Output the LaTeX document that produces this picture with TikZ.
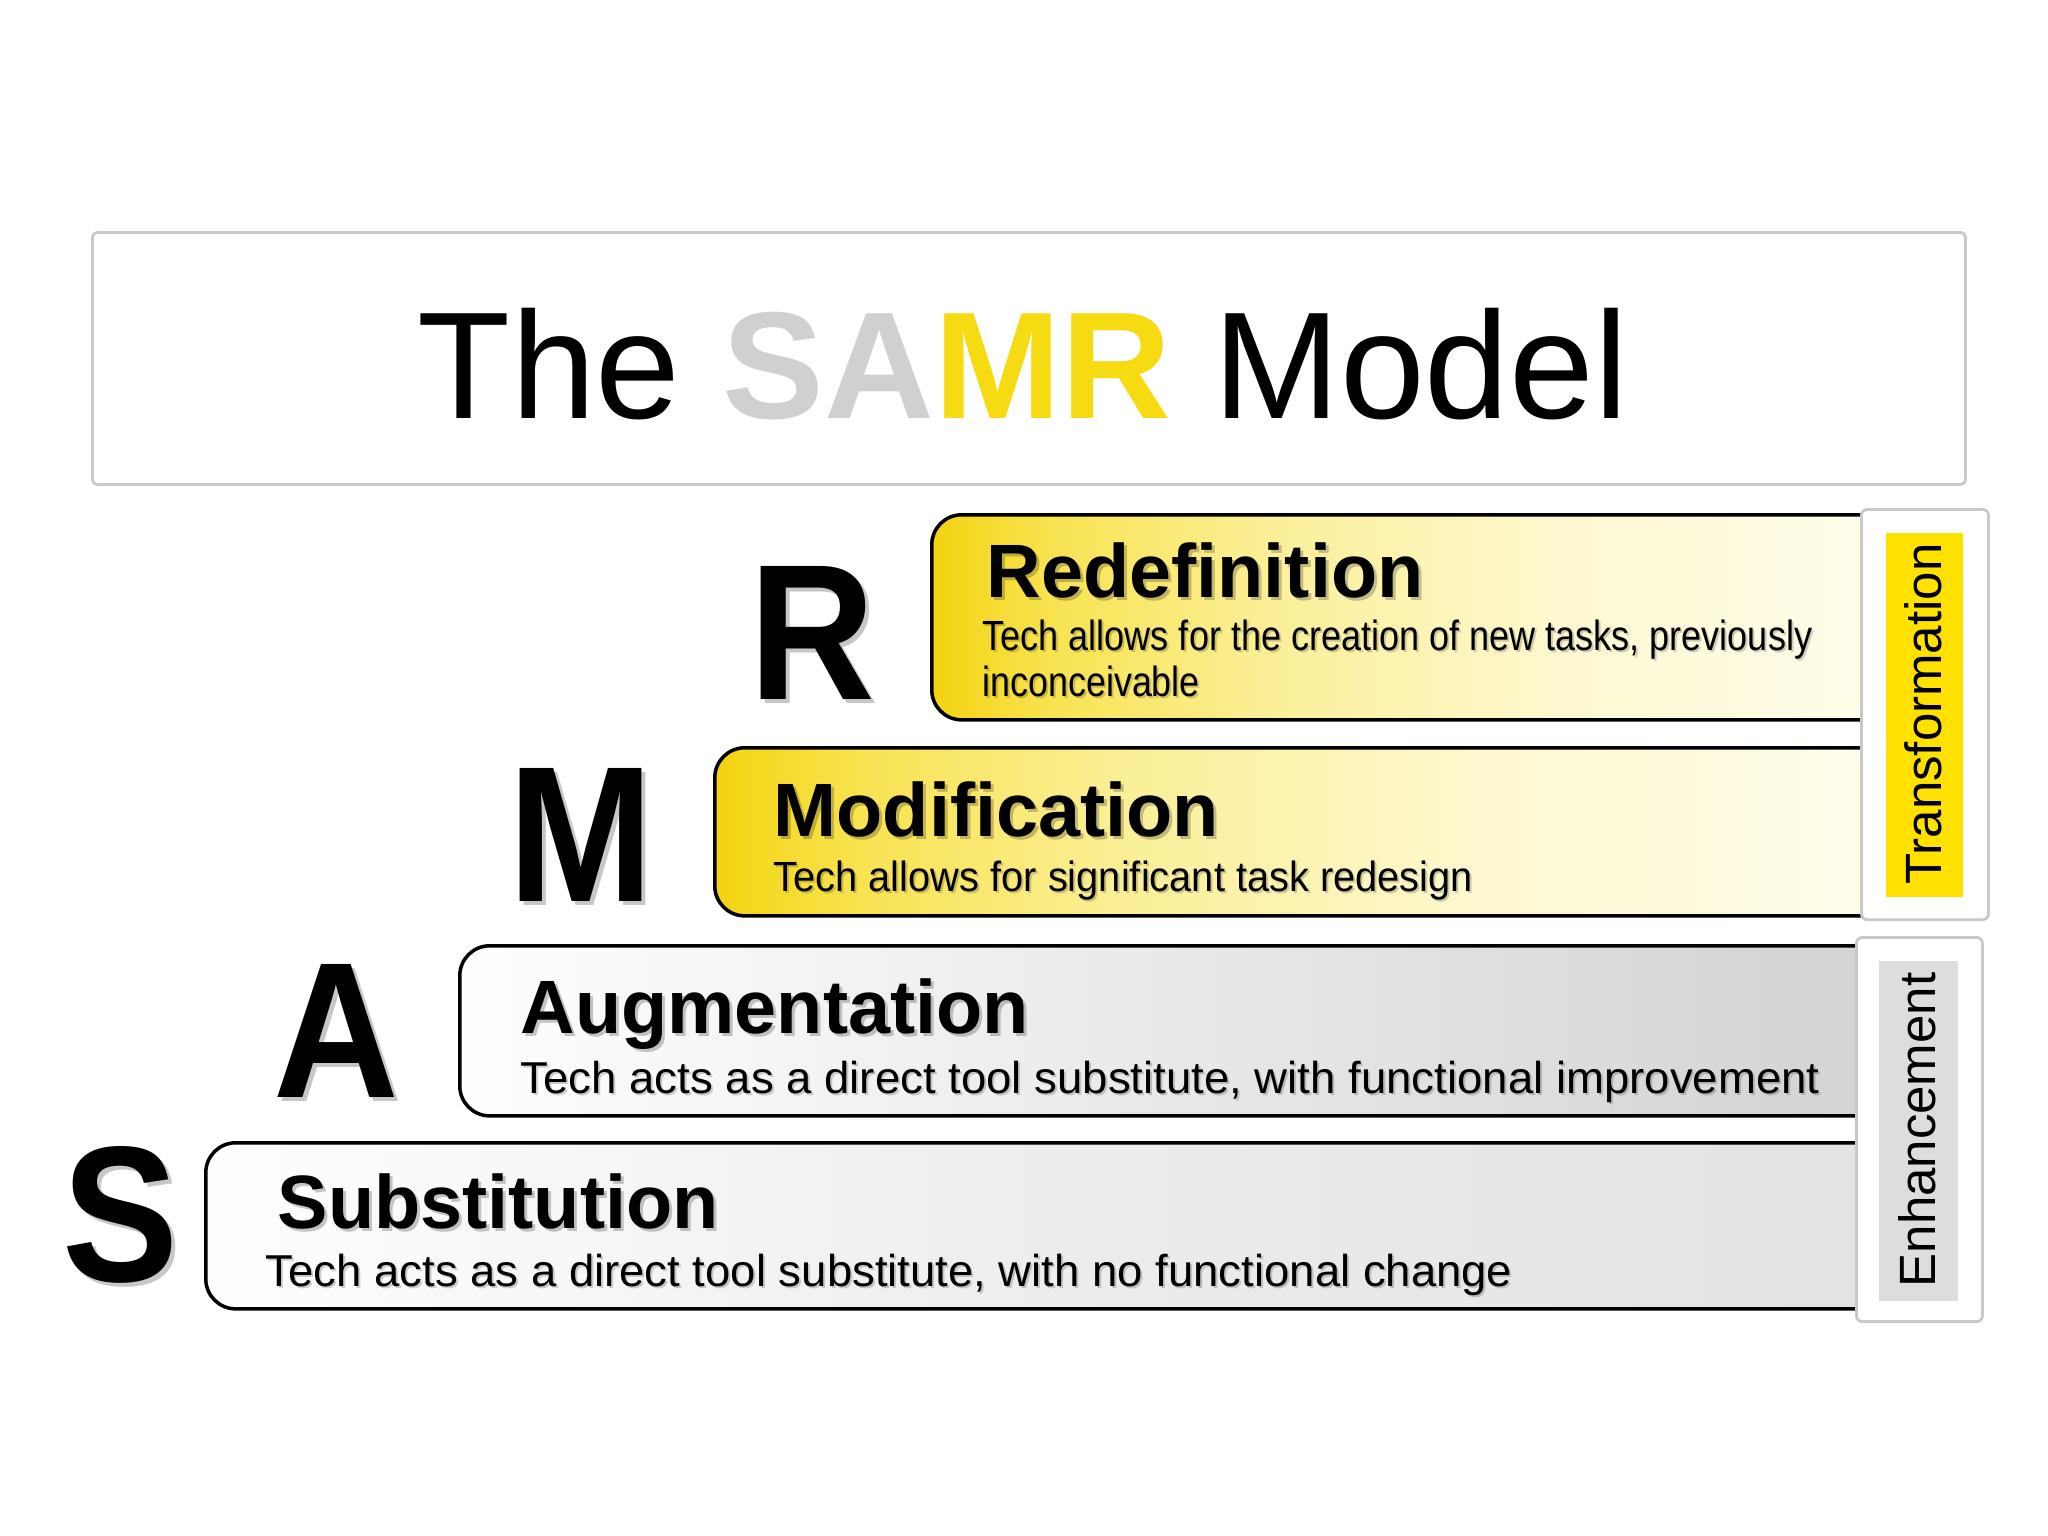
\documentclass[tikz,border=0pt]{standalone}
\usepackage{fontspec}
\setmainfont{Liberation Sans}
\usepackage{graphicx}
\definecolor{yelA}{HTML}{F3D30F}
\definecolor{yelB}{HTML}{F8E350}
\definecolor{yelC}{HTML}{FBEF96}
\definecolor{yelD}{HTML}{FDF8CF}
\definecolor{yelE}{HTML}{FFFDEE}
\definecolor{grA}{HTML}{FEFEFE}
\definecolor{grB}{HTML}{EDEDEF}
\definecolor{grC}{HTML}{D2D2D5}
\definecolor{grS}{HTML}{E2E2E4}
\definecolor{samrGray}{HTML}{D0D0D0}
\definecolor{samrYellow}{HTML}{F7DB12}
\definecolor{sideYellow}{HTML}{FFE100}
\definecolor{sideGray}{HTML}{DDDDDF}
\definecolor{frameGray}{HTML}{C9C9C9}
\pgfdeclarehorizontalshading{yellowfade}{100bp}{color(0bp)=(yelA); color(25bp)=(yelA); color(31bp)=(yelB); color(42bp)=(yelC); color(57bp)=(yelD); color(75bp)=(yelE); color(100bp)=(yelE)}
\pgfdeclarehorizontalshading{grayfadeA}{100bp}{color(0bp)=(grA); color(25bp)=(grA); color(45bp)=(grB); color(75bp)=(grC); color(100bp)=(grC)}
\pgfdeclarehorizontalshading{grayfadeS}{100bp}{color(0bp)=(grA); color(25bp)=(grA); color(50bp)=(grB); color(75bp)=(grS); color(100bp)=(grS)}
\tikzset{
  tier/.style={draw=black, line width=1pt, rounded corners=0.3cm, inner sep=0, anchor=north west},
  sidebox/.style={draw=frameGray, fill=white, line width=0.8pt, rounded corners=0.06cm, inner sep=0, anchor=north west},
  sideband/.style={inner sep=0, anchor=north west},
  sidetext/.style={font=\fontsize{14.5}{16}\selectfont, rotate=90, inner sep=0},
  bigletter/.style={font=\fontsize{55}{60}\selectfont\bfseries, inner sep=0, anchor=base},
  heading/.style={font=\fontsize{21.5}{24}\selectfont\bfseries, inner sep=0, anchor=base west},
  bodytext/.style={font=\fontsize{12}{14}\selectfont, inner sep=0, anchor=base west},
  bodylarge/.style={font=\fontsize{12.7}{14}\selectfont, inner sep=0, anchor=base west},
  shade/.style={text=black, opacity=0.22},
  softshade/.style={text=black, opacity=0.18},
}
\newcommand{\fitw}[2]{\resizebox{#1}{\height}{#2}}
\begin{document}
\begin{tikzpicture}[x=0.01cm, y=-0.01cm]
\fill[white] (0,0) rectangle (2048,1536);
\useasboundingbox (0,0) rectangle (2048,1536);

% title frame
\node[draw=frameGray, line width=0.8pt, fill=white, rounded corners=0.05cm, inner sep=0,
      minimum width=18.72cm, minimum height=2.52cm, anchor=north west] (titlebox) at (91,231) {};
\node[font=\fontsize{43.3}{50}\selectfont, inner sep=0, anchor=base] (title) at (1023,418)
  {The {\bfseries\color{samrGray}SA}{\bfseries\color{samrYellow}MR} Model};

% tiers (right ends pass under the side labels)
\node[tier, shading=yellowfade, minimum width=9.75cm, minimum height=2.05cm] (rbox) at (930,513) {};
\node[tier, shading=yellowfade, minimum width=11.92cm, minimum height=1.68cm] (mbox) at (713,746) {};
\node[tier, shading=grayfadeA, minimum width=14.42cm, minimum height=1.70cm] (abox) at (458,944) {};
\node[tier, shading=grayfadeS, minimum width=16.91cm, minimum height=1.66cm] (sbox) at (204,1141) {};

% big letters (soft shadow then letter)
\node[bigletter, shade] (rsh) at (816,703) {\scalebox{0.9}[1]{R}};
\node[bigletter] (rl) at (812,699) {\scalebox{0.9}[1]{R}};
\node[bigletter, shade] (msh) at (585,905) {\scalebox{0.9}[1]{M}};
\node[bigletter] (ml) at (581,901) {\scalebox{0.9}[1]{M}};
\node[bigletter, shade] (ash) at (340,1101) {\scalebox{0.9}[1]{A}};
\node[bigletter] (al) at (336,1097) {\scalebox{0.9}[1]{A}};
\node[bigletter, shade] (ssh) at (125,1285) {\scalebox{0.9}[1]{S}};
\node[bigletter] (sl) at (121,1281) {\scalebox{0.9}[1]{S}};

% headings
\node[heading, shade] (rhs) at (989,600) {Redefinition};
\node[heading] (rh) at (986,597) {Redefinition};
\node[heading, shade] (mhs) at (776,839) {Modification};
\node[heading] (mh) at (773,836) {Modification};
\node[heading, shade] (ahs) at (523,1036) {Augmentation};
\node[heading] (ah) at (520,1033) {Augmentation};
\node[heading, shade] (shs) at (280,1231) {Substitution};
\node[heading] (sh) at (277,1228) {Substitution};

% descriptions
\node[bodytext, softshade] (rt1s) at (984,652) {\fitw{8.29cm}{Tech allows for the creation of new tasks, previously}};
\node[bodytext] (rt1) at (982,650) {\fitw{8.29cm}{Tech allows for the creation of new tasks, previously}};
\node[bodytext, softshade] (rt2s) at (984,698) {\fitw{2.17cm}{inconceivable}};
\node[bodytext] (rt2) at (982,696) {\fitw{2.17cm}{inconceivable}};
\node[bodytext, softshade] (mts) at (775,893) {\fitw{6.99cm}{Tech allows for significant task redesign}};
\node[bodytext] (mt) at (773,891) {\fitw{6.99cm}{Tech allows for significant task redesign}};
\node[bodylarge, softshade] (ats) at (522,1095) {\fitw{12.98cm}{Tech acts as a direct tool substitute, with functional improvement}};
\node[bodylarge] (at) at (520,1093) {\fitw{12.98cm}{Tech acts as a direct tool substitute, with functional improvement}};
\node[bodylarge, softshade] (sts) at (267,1288) {\fitw{12.46cm}{Tech acts as a direct tool substitute, with no functional change}};
\node[bodylarge] (st) at (265,1286) {\fitw{12.46cm}{Tech acts as a direct tool substitute, with no functional change}};

% side labels
\node[sidebox, minimum width=1.27cm, minimum height=4.10cm] (transbox) at (1860,508) {};
\node[sideband, fill=sideYellow, minimum width=0.77cm, minimum height=3.64cm] (transband) at (1885,532) {};
\node[sidetext] (transtext) at (1923,714) {Transformation};
\node[sidebox, minimum width=1.26cm, minimum height=3.84cm] (enhbox) at (1855,936) {};
\node[sideband, fill=sideGray, minimum width=0.79cm, minimum height=3.40cm] (enhband) at (1878,960) {};
\node[sidetext] (enhtext) at (1917,1130) {Enhancement};
\end{tikzpicture}
\end{document}
